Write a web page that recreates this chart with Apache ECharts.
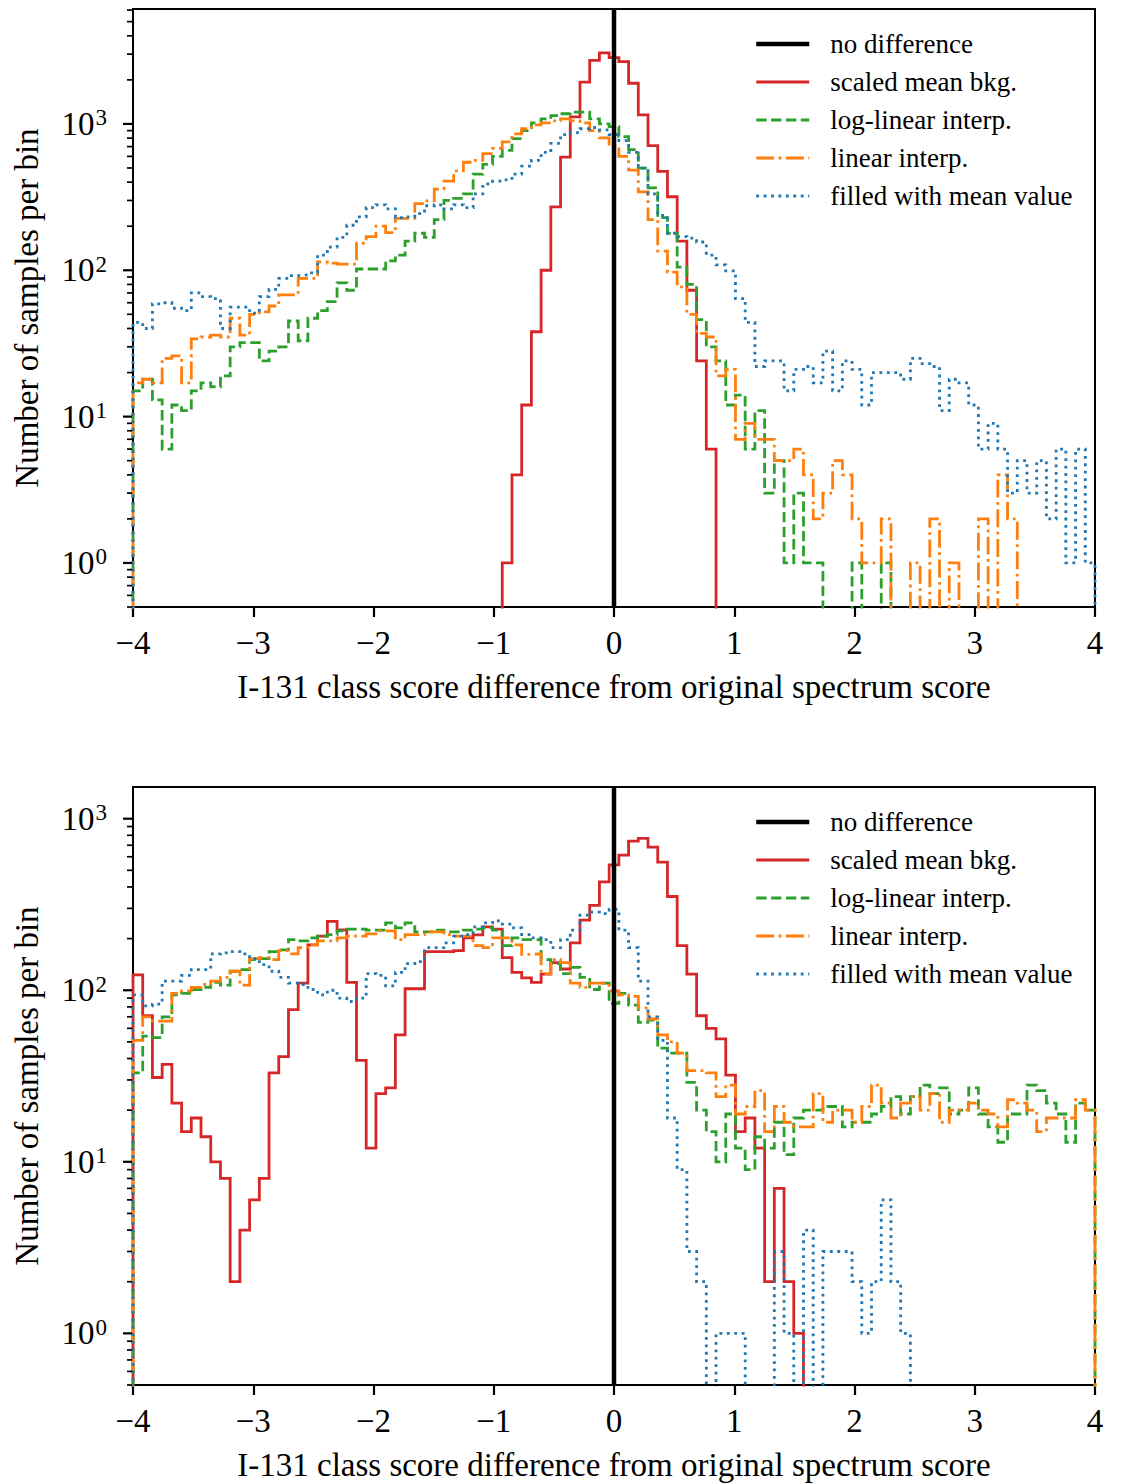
<!DOCTYPE html>
<html>
<head>
<meta charset="utf-8">
<script src="https://cdn.jsdelivr.net/npm/echarts@6/dist/echarts.min.js"></script>
<style>
html, body { margin: 0; padding: 0; background: #ffffff; }
#chart { width: 1121px; height: 1483px; }
</style>
</head>
<body>
<div id="chart"></div>
<script>
// ---------------- data ----------------
// histogram bins: 99 equal bins between -4 and 4
const binEdgeMin = -4;
const binEdgeMax = 4;
const binCount = 99;

const xTickValues = [-4, -3, -2, -1, 0, 1, 2, 3, 4];
const legendNames = ['no difference', 'scaled mean bkg.', 'log-linear interp.', 'linear interp.', 'filled with mean value'];
const xAxisTitle = 'I-131 class score difference from original spectrum score';
const yAxisTitle = 'Number of samples per bin';
const noDifferenceX = 0;

// ---- top panel counts per bin ----
const topScaledMeanBkg = [
  0,0,0,0,0,0,0,0,0,0,
  0,0,0,0,0,0,0,0,0,0,
  0,0,0,0,0,0,0,0,0,0,
  0,0,0,0,0,0,0,0,1,4,
  12,38,100,271,593,1117,1932,2717,3055,2836,
  2667,1896,1153,710,474,318,158,73,24,6,
  0,0,0,0,0,0,0,0,0,0,
  0,0,0,0,0,0,0,0,0,0,
  0,0,0,0,0,0,0,0,0,0,
  0,0,0,0,0,0,0,0,0
];
const topLogLinear = [
  15,18,13,6,12,11,15,17,16,19,
  30,32,32,24,28,30,45,33,47,53,
  61,82,73,102,102,102,116,127,158,179,
  168,222,300,310,333,454,530,601,660,794,
  899,1018,1083,1138,1174,1204,1204,1083,1000,957,
  819,667,499,366,229,179,105,80,46,30,
  24,12,14,6,11,3,5,1,3,1,
  1,0,0,0,1,0,0,1,0,0,
  0,0,0,0,0,0,0,0,0,0,
  0,0,0,0,0,0,0,0,0
];
const topLinear = [
  17,18,17,25,26,17,34,35,36,35,
  47,36,50,52,57,68,68,88,88,114,
  112,110,110,153,170,200,181,226,226,285,
  298,359,406,477,547,564,627,680,755,855,
  927,986,1018,1050,1083,1050,1018,899,804,710,
  601,483,343,222,135,97,77,50,37,35,
  19,21,7,9,7,7,5,5,6,4,
  2,3,5,4,2,1,1,2,0,0,
  1,0,2,0,1,0,0,2,0,4,
  2,0,0,0,0,0,0,0,0
];
const topFilledMean = [
  44,40,59,60,55,53,70,66,64,40,
  56,56,51,66,74,88,92,93,96,127,
  144,168,203,232,268,280,263,229,232,244,
  276,280,263,280,268,333,389,406,414,454,
  514,564,639,737,845,872,927,945,910,845,
  770,639,499,333,237,179,170,166,156,127,
  109,99,64,44,22,24,24,15,21,22,
  17,28,15,24,21,12,20,20,20,18,
  25,23,22,11,18,17,12,6,9,6,
  3,5,3,5,2,6,1,6,1
];

// ---- bottom panel counts per bin ----
const bottomScaledMeanBkg = [
  123,71,31,37,22,15,18,14,10,8,
  2,4,6,8,33,41,77,110,184,207,
  252,225,111,39,12,25,27,55,102,102,
  168,168,168,170,202,210,234,227,155,127,
  118,111,124,145,133,189,256,312,428,538,
  614,739,767,683,558,352,182,124,71,60,
  52,32,15,18,12,2,7,2,1,0,
  0,0,0,0,0,0,0,0,0,0,
  0,0,0,0,0,0,0,0,0,0,
  0,0,0,0,0,0,0,0,0
];
const bottomLogLinear = [
  33,54,53,70,94,96,101,104,111,107,
  129,132,151,153,168,172,197,194,202,207,
  211,222,227,227,224,224,247,231,247,219,
  219,224,219,219,224,227,231,224,182,202,
  197,197,151,143,125,136,119,101,110,84,
  96,82,65,67,46,43,43,29,20,15,
  10,19,12,9,14,12,17,11,18,20,
  20,21,21,16,17,17,19,21,24,19,
  24,28,25,27,19,20,27,19,16,13,
  19,19,28,26,22,19,13,22,20
];
const bottomLinear = [
  51,70,66,66,96,99,104,108,113,119,
  129,107,153,155,151,170,163,177,184,194,
  194,202,207,207,213,222,222,197,211,211,
  219,219,211,207,207,182,177,202,202,184,
  162,163,125,151,145,110,104,110,110,99,
  94,92,79,68,55,50,43,34,34,33,
  24,28,19,21,26,15,21,17,16,16,
  25,17,20,20,17,21,28,22,18,22,
  24,20,25,17,20,20,22,20,19,16,
  23,22,20,15,18,18,18,23,20
];
const bottomFilledMean = [
  94,81,83,113,113,122,132,132,163,165,
  168,163,153,141,129,119,110,108,101,94,
  100,90,86,90,125,122,106,127,143,147,
  177,177,189,207,211,234,247,254,243,231,
  211,202,197,177,197,224,274,285,280,296,
  224,177,113,70,51,18,9,3,2,0,
  1,1,1,0,0,0,3,1,0,4,
  0,3,3,3,2,1,2,6,2,1,
  0,0,0,0,0,0,0,0,0,0,
  0,0,0,0,0,0,0,0,0
];

// ---------------- rendering ----------------
const FONT = '"Liberation Serif", "Times New Roman", "Nimbus Roman", "DejaVu Serif", serif';
const COLORS = { black: '#000000', red: '#d62728', green: '#2ca02c', orange: '#ff7f0e', blue: '#1f77b4' };
const LW = 2.8;
const BLACK_LW = 4.5;
const FLOOR = 1e-3; // empty bins drop below the log axis (clipped)

const edges = [];
for (let i = 0; i <= binCount; i++) edges.push(binEdgeMin + (binEdgeMax - binEdgeMin) * i / binCount);

function stepData(counts) {
  const pts = [[edges[0], FLOOR]];
  counts.forEach((c, k) => {
    const v = c > 0 ? c : FLOOR;
    pts.push([edges[k], v], [edges[k + 1], v]);
  });
  pts.push([edges[counts.length], FLOOR]);
  return pts;
}

const panels = [
  { top: 9, yMin: 0.5, yMax: 6100, legendTop: 29,
    data: [topScaledMeanBkg, topLogLinear, topLinear, topFilledMean] },
  { top: 787, yMin: 0.5, yMax: 1530, legendTop: 807,
    data: [bottomScaledMeanBkg, bottomLogLinear, bottomLinear, bottomFilledMean] }
];

const GRID_LEFT = 133, GRID_WIDTH = 962, GRID_HEIGHT = 598;

const histStyles = [
  { name: legendNames[1], color: COLORS.red, type: 'solid' },
  { name: legendNames[2], color: COLORS.green, type: [3.7 * LW, 1.6 * LW] },
  { name: legendNames[3], color: COLORS.orange, type: [6.4 * LW, 1.6 * LW, 1 * LW, 1.6 * LW] },
  { name: legendNames[4], color: COLORS.blue, type: [1 * LW, 1.65 * LW] }
];
const legendStyleByName = {};
legendStyleByName[legendNames[0]] = { color: COLORS.black, type: 'solid', width: BLACK_LW };
histStyles.forEach(h => { legendStyleByName[h.name] = { color: h.color, type: h.type, width: LW }; });

const grids = [], xAxes = [], yAxes = [], series = [], legends = [];

panels.forEach((p, pi) => {
  grids.push({ left: GRID_LEFT, top: p.top, width: GRID_WIDTH, height: GRID_HEIGHT,
    show: true, borderColor: '#000', borderWidth: 2, backgroundColor: 'transparent', containLabel: false });
  xAxes.push({
    type: 'value', gridIndex: pi, min: binEdgeMin, max: binEdgeMax, interval: 1,
    axisLine: { show: false },
    axisTick: { show: true, length: 10, lineStyle: { color: '#000', width: 2.2 } },
    splitLine: { show: false },
    axisLabel: { margin: 19, color: '#000', fontFamily: FONT, fontSize: 33,
      formatter: v => (v < 0 ? '\u2212' + Math.abs(v) : String(v)) },
    name: xAxisTitle, nameLocation: 'middle', nameGap: 63,
    nameTextStyle: { color: '#000', fontFamily: FONT, fontSize: 33 }
  });
  yAxes.push({
    type: 'log', logBase: 10, gridIndex: pi, min: p.yMin, max: p.yMax,
    axisLine: { show: false },
    axisTick: { show: false },
    splitLine: { show: false },
    minorTick: { show: false },
    axisLabel: {
      margin: 26, showMinLabel: false, showMaxLabel: false,
      formatter: v => {
        const e = Math.log10(v); const r = Math.round(e);
        if (Math.abs(e - r) > 1e-6) return '';
        return '{b|10}{s|' + r + '}';
      },
      rich: {
        b: { fontFamily: FONT, fontSize: 33, color: '#000' },
        s: { fontFamily: FONT, fontSize: 23, color: '#000', verticalAlign: 'top', padding: [0, 0, 12, 1] }
      }
    },
    name: yAxisTitle, nameLocation: 'middle', nameGap: 90,
    nameTextStyle: { color: '#000', fontFamily: FONT, fontSize: 33 }
  });

  // log-axis ticks (major at decades, minor at 2..9 x decade)
  const tickData = [];
  for (let e = -1; e <= 4; e++) {
    for (let m = 1; m <= 9; m++) {
      const v = m * Math.pow(10, e);
      if (v >= p.yMin - 1e-9 && v <= p.yMax + 1e-9) tickData.push([binEdgeMin, v, m === 1 ? 1 : 0]);
    }
  }
  series.push({
    type: 'custom', xAxisIndex: pi, yAxisIndex: pi, silent: true, z: 5,
    data: tickData, encode: { x: 0, y: 1 },
    renderItem: (params, api) => {
      const pt = api.coord([api.value(0), api.value(1)]);
      const major = api.value(2) === 1;
      const len = major ? 10 : 6;
      return { type: 'line', shape: { x1: pt[0] - len, y1: pt[1], x2: pt[0] - 1, y2: pt[1] },
        style: { stroke: '#000', lineWidth: major ? 2.2 : 1.7 } };
    }
  });

  histStyles.forEach((h, hi) => {
    series.push({
      type: 'line', name: h.name, xAxisIndex: pi, yAxisIndex: pi,
      data: stepData(p.data[hi]),
      symbol: 'none', showSymbol: false, clip: true, z: 2,
      color: h.color,
      lineStyle: { color: h.color, width: LW, type: h.type, join: 'miter' },
      emphasis: { disabled: true }
    });
  });

  series.push({
    type: 'line', name: legendNames[0], xAxisIndex: pi, yAxisIndex: pi,
    data: [[noDifferenceX, p.yMin], [noDifferenceX, p.yMax]],
    symbol: 'none', showSymbol: false, z: 3, color: COLORS.black,
    lineStyle: { color: COLORS.black, width: BLACK_LW, type: 'solid' },
    emphasis: { disabled: true }
  });

  legends.push({
    data: legendNames.map(n => ({
      name: n,
      itemStyle: { opacity: 0, color: 'transparent', borderWidth: 0 },
      lineStyle: { color: legendStyleByName[n].color, width: legendStyleByName[n].width, type: legendStyleByName[n].type, opacity: 1 }
    })),
    orient: 'vertical', left: 754, top: p.legendTop, padding: 0,
    itemWidth: 53, itemHeight: 14, itemGap: 8, selectedMode: false,
    textStyle: { color: '#000', fontFamily: FONT, fontSize: 27, lineHeight: 30, padding: [0, 0, 0, 16] }
  });
});

const chart = echarts.init(document.getElementById('chart'), null, { renderer: 'svg', width: 1121, height: 1483 });
chart.setOption({
  animation: false,
  backgroundColor: '#ffffff',
  textStyle: { fontFamily: FONT },
  grid: grids, xAxis: xAxes, yAxis: yAxes, legend: legends, series: series
});
</script>
</body>
</html>
